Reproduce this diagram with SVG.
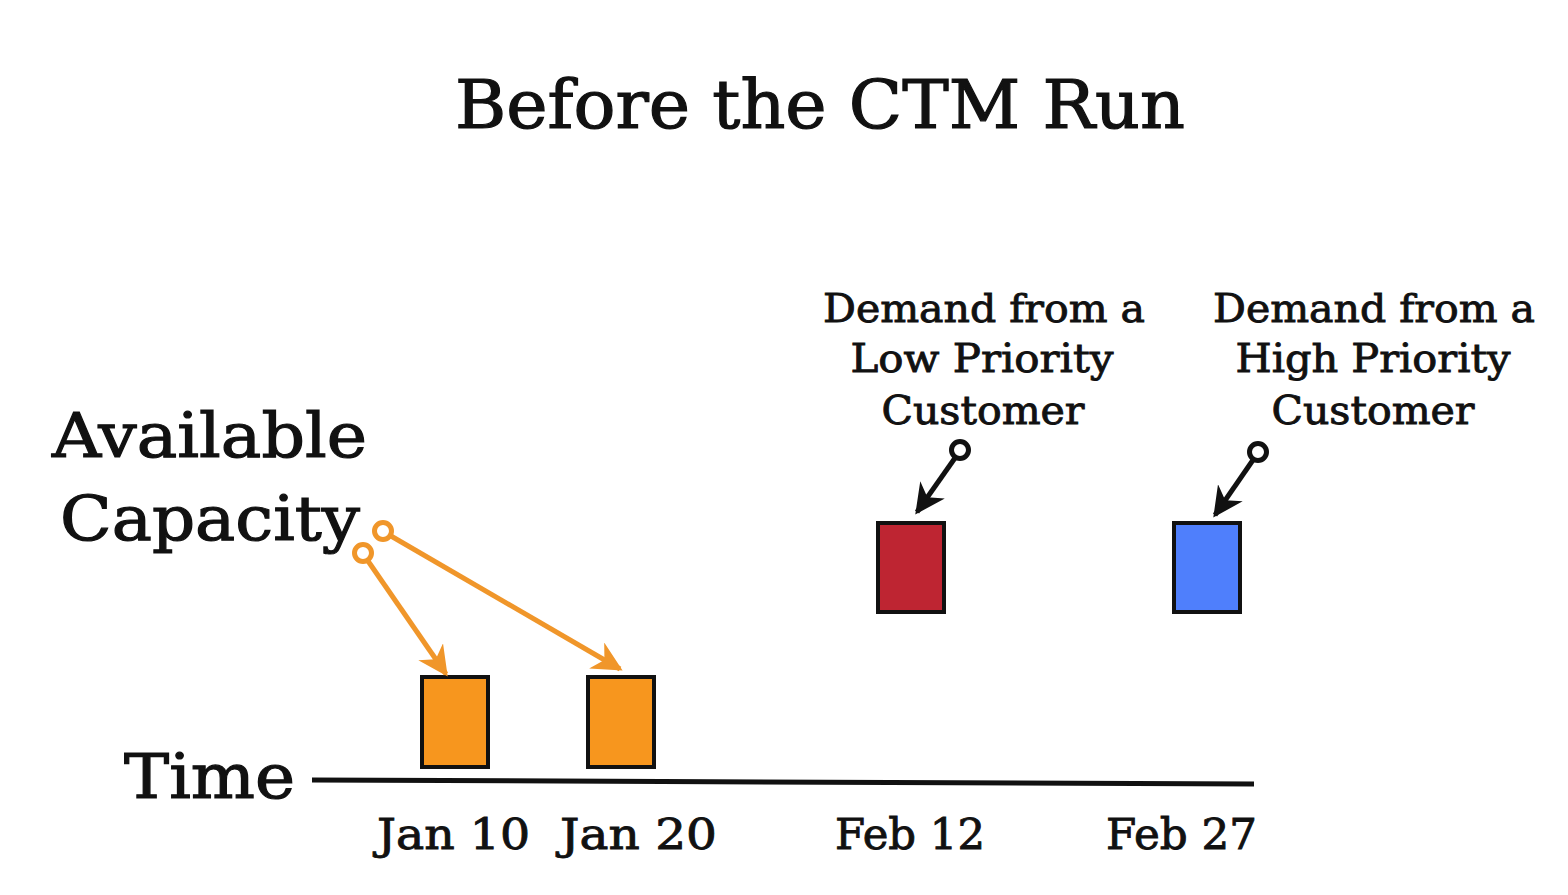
<svg xmlns="http://www.w3.org/2000/svg" width="1568" height="895" viewBox="0 0 1568 895">
<defs>
<style>
text{font-family:"DejaVu Serif","Liberation Serif",serif;fill:#111;stroke:#111;stroke-width:0.9px;}
.t{font-size:68px;stroke-width:1.2px}
.big{font-size:62px;stroke-width:1.2px}
.d{font-size:43px}
.lbl{font-size:40px;text-anchor:middle}
.box{stroke:#111;stroke-width:4}
.oa{stroke:#F0962A;stroke-width:5;fill:none}
.ba{stroke:#111;stroke-width:5;fill:none}
</style>
<marker id="ho" viewBox="0 0 10 10" refX="9" refY="5" markerWidth="6" markerHeight="6" markerUnits="strokeWidth" orient="auto"><path d="M0,0 L10,5 L0,10 L3,5 Z" fill="#F0962A"/></marker>
<marker id="hb" viewBox="0 0 10 10" refX="9" refY="5" markerWidth="6" markerHeight="6" markerUnits="strokeWidth" orient="auto"><path d="M0,0 L10,5 L0,10 L3,5 Z" fill="#111"/></marker>
</defs>
<rect width="1568" height="895" fill="#fff"/>
<g id="title"><text class="t" x="455" y="128" textLength="730" lengthAdjust="spacingAndGlyphs">Before the CTM Run</text></g>
<g id="capacity-label">
<text class="big" x="52" y="457" textLength="315" lengthAdjust="spacingAndGlyphs">Available</text>
<text class="big" x="60" y="540" textLength="300" lengthAdjust="spacingAndGlyphs">Capacity</text>
</g>
<g id="time-label"><text class="big" x="124" y="798" textLength="171" lengthAdjust="spacingAndGlyphs">Time</text></g>
<g id="low-label">
<text class="lbl" x="984" y="322" textLength="322" lengthAdjust="spacingAndGlyphs">Demand from a</text>
<text class="lbl" x="982" y="372" textLength="263" lengthAdjust="spacingAndGlyphs">Low Priority</text>
<text class="lbl" x="983" y="424" textLength="203" lengthAdjust="spacingAndGlyphs">Customer</text>
</g>
<g id="high-label">
<text class="lbl" x="1374" y="322" textLength="322" lengthAdjust="spacingAndGlyphs">Demand from a</text>
<text class="lbl" x="1373" y="372" textLength="275" lengthAdjust="spacingAndGlyphs">High Priority</text>
<text class="lbl" x="1373" y="424" textLength="203" lengthAdjust="spacingAndGlyphs">Customer</text>
</g>
<g id="jan10"><rect class="box" x="422" y="677" width="66" height="90" fill="#F7961E"/><text class="d" x="377" y="849" textLength="153" lengthAdjust="spacingAndGlyphs">Jan 10</text></g>
<g id="jan20"><rect class="box" x="588" y="677" width="66" height="90" fill="#F7961E"/><text class="d" x="560" y="849" textLength="157" lengthAdjust="spacingAndGlyphs">Jan 20</text></g>
<g id="feb12"><rect class="box" x="878" y="523" width="66" height="89" fill="#BE2532"/><text class="d" x="835" y="849" textLength="150" lengthAdjust="spacingAndGlyphs">Feb 12</text></g>
<g id="feb27"><rect class="box" x="1174" y="523" width="66" height="89" fill="#4F7FFC"/><text class="d" x="1106" y="849" textLength="151" lengthAdjust="spacingAndGlyphs">Feb 27</text></g>
<g id="connectors">
<line x1="312" y1="780" x2="1254" y2="784" stroke="#111" stroke-width="5"/>
<circle class="oa" cx="363" cy="553" r="8.5"/>
<line class="oa" x1="368" y1="561" x2="446" y2="674" marker-end="url(#ho)"/>
<circle class="oa" cx="383" cy="531" r="8.5"/>
<line class="oa" x1="391" y1="536" x2="620" y2="669" marker-end="url(#ho)"/>
<circle class="ba" cx="960" cy="450" r="8.5"/>
<line class="ba" x1="955" y1="458" x2="917" y2="512" marker-end="url(#hb)"/>
<circle class="ba" cx="1258" cy="452" r="8.5"/>
<line class="ba" x1="1253" y1="460" x2="1215" y2="515" marker-end="url(#hb)"/>
</g>
</svg>
